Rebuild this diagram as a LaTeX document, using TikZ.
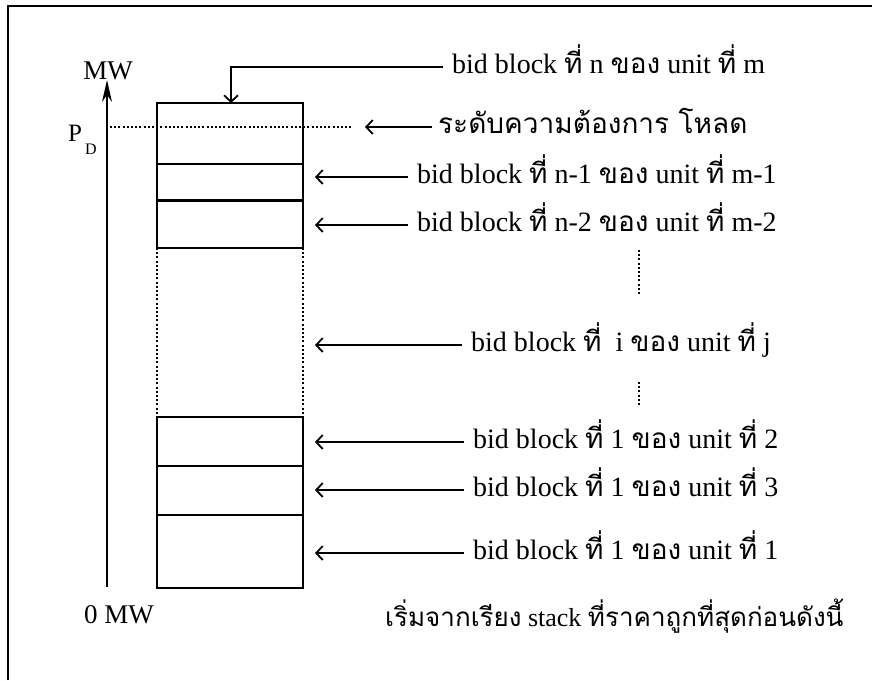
\documentclass[tikz,border=0pt]{standalone}
\usepackage{fontspec}
\setmainfont{Liberation Serif}
\newfontfamily\thaifont[Script=Thai]{Loma}
\usetikzlibrary{arrows.meta}
\newcommand{\tf}[1]{{\thaifont #1}}
\begin{document}
\begin{tikzpicture}[x=1pt,y=-1pt,
  lbl/.style={anchor=west,inner xsep=9pt,inner ysep=0pt,text height=20pt,text depth=7pt,font=\fontsize{28}{32}\selectfont},
  txt/.style={inner sep=0pt,font=\fontsize{27}{30}\selectfont},
  ptr/.style={line width=1.8pt,-{Straight Barb[length=6.5pt,width=14pt,line width=1.8pt]}},
  boxline/.style={line width=2.4pt},
  dots/.style={line width=2.2pt,dash pattern=on 2pt off 2.2pt},
  frame/.style={line width=2pt},
]
\useasboundingbox (0,0) rectangle (872,680);
% frame (top and left only visible)
\draw[frame] (8,680) -- (8,6) -- (880,6);

% axis
\coordinate (ax0) at (107,587);
\coordinate (ax1) at (107,80);
\draw[line width=2pt,-{Stealth[length=22pt,width=10pt]}] (ax0) -- (ax1);
\node[txt,font=\fontsize{27}{28}\selectfont] (mw) at (108,71) {MW};
\node[txt] (zmw) at (119,615) {0 MW};
\node[txt,anchor=base west,font=\fontsize{25}{28}\selectfont] (pd) at (68,141) {P\hspace{3pt}\raisebox{-13pt}{\fontsize{16}{16}\selectfont D}};

% stack of blocks
\draw[boxline] (157,103) rectangle (303,248);
\draw[boxline] (157,164) -- (303,164);
\draw[boxline] (157,200.5) -- (303,200.5);
\draw[dots] (157,248) -- (157,417);
\draw[dots] (303,248) -- (303,417);
\draw[boxline] (157,417) rectangle (303,588);
\draw[boxline] (157,466) -- (303,466);
\draw[boxline] (157,515) -- (303,515);

% P_D dotted level
\draw[dots] (110,127) -- (353,127);

% tip coordinates
\coordinate (tn) at (231,103);
\coordinate (tpd) at (365,127);
\coordinate (t1) at (315,177);
\coordinate (t2) at (315,225);
\coordinate (ti) at (315,345);
\coordinate (t3) at (315,442);
\coordinate (t4) at (315,490);
\coordinate (t5) at (315,553);

% labels
\node[lbl] (ln) at (443,67) {bid block \tf{ที่} n \tf{ของ} unit \tf{ที่} m};
\node[lbl,inner xsep=6pt] (lpd) at (432,127) {\tf{ระดับความต้องการ โหลด}};
\node[lbl] (l1) at (408,177) {bid block \tf{ที่} n-1 \tf{ของ} unit \tf{ที่} m-1};
\node[lbl] (l2) at (408,225) {bid block \tf{ที่} n-2 \tf{ของ} unit \tf{ที่} m-2};
\node[lbl] (li) at (462,345) {bid block \tf{ที่}\ \ i \tf{ของ} unit \tf{ที่} j};
\node[lbl] (l3) at (464,442) {bid block \tf{ที่} 1 \tf{ของ} unit \tf{ที่} 2};
\node[lbl] (l4) at (464,490) {bid block \tf{ที่} 1 \tf{ของ} unit \tf{ที่} 3};
\node[lbl] (l5) at (464,553) {bid block \tf{ที่} 1 \tf{ของ} unit \tf{ที่} 1};
\node[txt,anchor=west,font=\fontsize{26}{30}\selectfont] (note) at (385,616) {\tf{เริ่มจากเรียง} stack \tf{ที่ราคาถูกที่สุดก่อนดังนี้}};

% connectors
\draw[ptr] (ln.west) -| (tn);
\draw[ptr] (lpd.west) -- (tpd);
\draw[ptr] (l1.west) -- (t1);
\draw[ptr] (l2.west) -- (t2);
\draw[ptr] (li.west) -- (ti);
\draw[ptr] (l3.west) -- (t3);
\draw[ptr] (l4.west) -- (t4);
\draw[ptr] (l5.west) -- (t5);

% continuation dots
\draw[dots] (639,250) -- (639,295);
\draw[dots] (639,382) -- (639,407);
\end{tikzpicture}
\end{document}
